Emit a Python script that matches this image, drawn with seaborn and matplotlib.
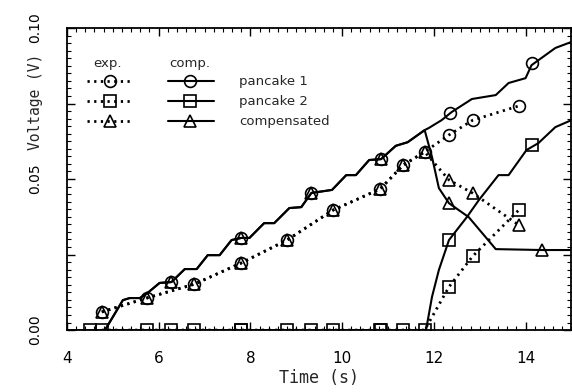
import numpy as np
import pandas as pd
import matplotlib
matplotlib.use("Agg")
import matplotlib.pyplot as plt
from matplotlib.lines import Line2D
from matplotlib.ticker import MultipleLocator, FuncFormatter
import seaborn as sns

# ---- measured (exp.) points ----
exp_t = [4.76, 5.74, 6.78, 7.80, 8.80, 9.80, 10.83, 11.33, 11.80, 12.33, 12.85, 13.85]
exp_p1 = [0.0060, 0.0106, 0.0152, 0.0222, 0.0298, 0.0397, 0.0467, 0.0546, 0.0590, 0.0646, 0.0695, 0.0742]
exp_p2 = [0.0, 0.0, 0.0, 0.0, 0.0, 0.0, 0.0, 0.0, 0.0, 0.0143, 0.0245, 0.0397]
exp_cmp = [0.0060, 0.0106, 0.0152, 0.0222, 0.0298, 0.0397, 0.0467, 0.0546, 0.0590, 0.0497, 0.0453, 0.0348]

# ---- computed (comp.) curves ----
comp_p1_t = [4.00, 4.83, 5.22, 5.37, 5.59, 5.76, 6.02, 6.28, 6.57, 6.83, 7.07, 7.33, 7.59,
             7.80, 7.98, 8.30, 8.52, 8.85, 9.11, 9.33, 9.78, 10.09, 10.30, 10.59, 10.85,
             11.17, 11.43, 11.80, 11.89, 12.17, 12.39, 12.83, 13.35, 13.63, 14.00, 14.13,
             14.65, 15.00]
comp_p1_v = [0.0, 0.0, 0.0099, 0.0106, 0.0106, 0.0123, 0.0156, 0.0159, 0.0202, 0.0202, 0.0248,
             0.0248, 0.0298, 0.0305, 0.0305, 0.0354, 0.0354, 0.0404, 0.0407, 0.0454, 0.0464,
             0.0513, 0.0513, 0.0563, 0.0566, 0.0610, 0.0622, 0.0662, 0.0669, 0.0695, 0.0722,
             0.0765, 0.0778, 0.0818, 0.0834, 0.0877, 0.0934, 0.0954]

comp_p2_t = [4.00, 11.83, 11.96, 12.11, 12.33, 12.72, 12.98, 13.41, 13.63, 14.02, 14.28, 14.65, 15.00]
comp_p2_v = [0.0, 0.0, 0.0110, 0.0199, 0.0298, 0.0374, 0.0430, 0.0513, 0.0513, 0.0596, 0.0619,
             0.0672, 0.0695]

# compensated curve after the second coil switches on (before that it follows pancake 1)
comp_cmp_tail_t = [11.96, 12.11, 12.33, 12.76, 13.35, 14.35, 15.00]
comp_cmp_tail_v = [0.0573, 0.0470, 0.0420, 0.0374, 0.0268, 0.0265, 0.0265]

# symbols placed on the computed curves
comp_mk_t = [6.28, 7.80, 9.33, 10.85]
comp_mk_v = [0.0159, 0.0305, 0.0454, 0.0566]
comp_p1_mk_t = [12.35, 14.13]
comp_p1_mk_v = [0.0718, 0.0884]
comp_p2_mk_t = [4.50, 12.33, 14.13]
comp_p2_mk_v = [0.0, 0.0298, 0.0613]
comp_cmp_mk_t = [12.33, 14.35]
comp_cmp_mk_v = [0.0420, 0.0265]

x_ticks = [4, 6, 8, 10, 12, 14]

sns.set_theme(style="ticks")
plt.rcParams["font.family"] = ["DejaVu Sans"]

fig = plt.figure(figsize=(5.72, 3.92), dpi=100)
ax = fig.add_axes([0.117, 0.158, 0.882, 0.7705])

DOT = (0, (0.8, 1.6))
MS = 8.5
common = dict(color="black", markerfacecolor="none", markeredgecolor="black",
              markeredgewidth=1.2, markersize=MS)

# computed curves (solid)
peak = comp_p1_t.index(11.80)
cmp_line = pd.DataFrame({"t": comp_p1_t[:peak + 1] + comp_cmp_tail_t,
                         "v": comp_p1_v[:peak + 1] + comp_cmp_tail_v})
for t, v in [(comp_p1_t, comp_p1_v), (comp_p2_t, comp_p2_v)]:
    sns.lineplot(x=t, y=v, ax=ax, sort=False, estimator=None, color="black", lw=1.5)
sns.lineplot(data=cmp_line, x="t", y="v", ax=ax, sort=False, estimator=None,
             color="black", lw=1.5)

# computed symbols
for t, v, m in [(comp_mk_t + comp_p1_mk_t, comp_mk_v + comp_p1_mk_v, "o"),
                (comp_p2_mk_t, comp_p2_mk_v, "s"),
                (comp_mk_t + comp_cmp_mk_t, comp_mk_v + comp_cmp_mk_v, "^")]:
    ax.plot(t, v, ls="none", marker=m, **common)
ax.plot(comp_mk_t, [0.0] * len(comp_mk_t), ls="none", marker="s", **common)

# measured points (dotted)
for v, m in [(exp_p1, "o"), (exp_p2, "s"), (exp_cmp, "^")]:
    sns.lineplot(x=exp_t, y=v, ax=ax, sort=False, estimator=None, color="black",
                 lw=2.0, linestyle=DOT, marker=m, markerfacecolor="none",
                 markeredgecolor="black", markeredgewidth=1.2, markersize=MS)

ax.set_xlim(4, 15)
ax.set_ylim(0, 0.10)
ax.set_xticks(x_ticks)
ax.xaxis.set_minor_locator(MultipleLocator(0.2))
ax.yaxis.set_major_locator(MultipleLocator(0.025))
ax.yaxis.set_minor_locator(MultipleLocator(0.0025))
ax.yaxis.set_major_formatter(FuncFormatter(
    lambda y, _: f"{y:.2f}" if abs(round(y / 0.05) * 0.05 - y) < 1e-9 else ""))
ax.tick_params(which="both", direction="in", top=True, right=True, colors="black")
ax.tick_params(which="major", length=6, width=1.0, labelsize=10)
ax.tick_params(axis="x", which="major", labelsize=11, pad=15)
ax.tick_params(axis="y", which="major", pad=18)
ax.tick_params(which="minor", length=3, width=0.8)
for lab in ax.get_yticklabels():
    lab.set_rotation(90)
    lab.set_va("center")
for s in ax.spines.values():
    s.set_linewidth(1.3)
    s.set_color("black")

ax.set_xlabel("Time (s)", family="DejaVu Sans Mono", fontsize=12, labelpad=2)
ax.set_ylabel("Voltage (V)", family="DejaVu Sans Mono", fontsize=10.5)
ax.yaxis.set_label_coords(-0.047, 0.755)

# key
tr = ax.transAxes
ax.text(0.081, 0.884, "exp.", transform=tr, ha="center", va="center", fontsize=9.5)
ax.text(0.243, 0.884, "comp.", transform=tr, ha="center", va="center", fontsize=9.5)
rows = [(0.8245, "o", "pancake 1"), (0.758, "s", "pancake 2"), (0.692, "^", "compensated")]
for y, m, lab in rows:
    ax.add_line(Line2D([0.0395, 0.130], [y, y], transform=tr, color="black", lw=2.0,
                       linestyle=DOT))
    ax.add_line(Line2D([0.085], [y], transform=tr, ls="none", marker=m, **common))
    ax.add_line(Line2D([0.1996, 0.2925], [y, y], transform=tr, color="black", lw=1.5))
    ax.add_line(Line2D([0.243], [y], transform=tr, ls="none", marker=m, **common))
    ax.text(0.342, y, lab, transform=tr, ha="left", va="center", fontsize=9.5)

fig.savefig("out.png", dpi=100)
